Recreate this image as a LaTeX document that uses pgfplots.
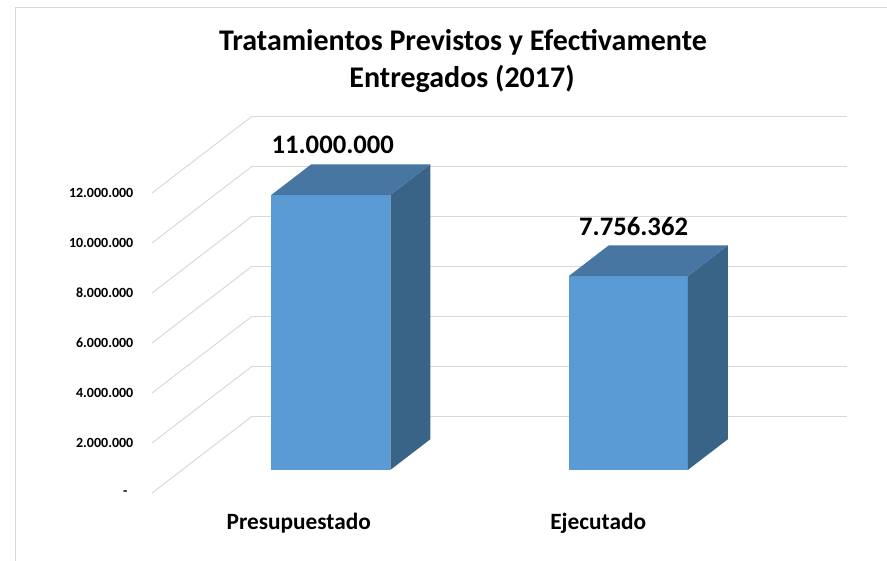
\documentclass[border=0pt]{standalone}
\usepackage{fontspec}
\setmainfont{Carlito}
\usepackage{pgfplots}
\pgfplotsset{compat=1.18}
\definecolor{frontc}{HTML}{5B9BD5}
\definecolor{topc}{HTML}{4676A1}
\definecolor{sidec}{HTML}{3A6388}
\definecolor{gridc}{HTML}{D9D9D9}
\begin{document}
\begin{tikzpicture}
\useasboundingbox (0,0) rectangle (665.25pt,420pt);
\draw[gridc, line width=1.1pt] (11.625pt,-2pt) -- (11.625pt,414.375pt) -- (667pt,414.375pt);
\node[anchor=base, font=\bfseries\fontsize{22.5}{24}\selectfont] at (347.25pt,382pt) {Tratamientos Previstos y Efectivamente};
\node[anchor=base, font=\bfseries\fontsize{22.5}{24}\selectfont] at (346.5pt,354.5pt) {Entregados (2017)};
\begin{axis}[
  x={(223.125pt,0pt)}, y={(75pt,57.525pt)}, z={(0pt,18.75pt)},
  anchor=origin, at={(114pt,50.25pt)},
  xmin=0, xmax=2, ymin=0, ymax=1, zmin=0, zmax=12,
  z filter/.expression={z/1000000},
  xtick=\empty, ytick=\empty, ztick={0,2,...,12}, zticklabels={},
  zmajorgrids, major grid style={gridc, line width=0.75pt},
  axis line style={draw=none}, major tick style={draw=none},
  clip=false, no marks,
]
% Presupuestado = 11000000
\addplot3[fill=frontc, draw=none] coordinates {(0.3,0.3,0) (0.7,0.3,0) (0.7,0.3,11000000) (0.3,0.3,11000000)};
\addplot3[fill=sidec, draw=none] coordinates {(0.7,0.3,0) (0.7,0.7,0) (0.7,0.7,11000000) (0.7,0.3,11000000)};
\addplot3[fill=topc, draw=none] coordinates {(0.3,0.3,11000000) (0.7,0.3,11000000) (0.7,0.7,11000000) (0.3,0.7,11000000)};
% Ejecutado = 7756362
\addplot3[fill=frontc, draw=none] coordinates {(1.3,0.3,0) (1.7,0.3,0) (1.7,0.3,7756362) (1.3,0.3,7756362)};
\addplot3[fill=sidec, draw=none] coordinates {(1.7,0.3,0) (1.7,0.7,0) (1.7,0.7,7756362) (1.7,0.3,7756362)};
\addplot3[fill=topc, draw=none] coordinates {(1.3,0.3,7756362) (1.7,0.3,7756362) (1.7,0.7,7756362) (1.3,0.7,7756362)};

\node[font=\bfseries\fontsize{20}{22}\selectfont] at (axis cs:0.5,0.3,11) [xshift=1.5pt, yshift=37.5pt] {11.000.000};
\node[font=\bfseries\fontsize{20}{22}\selectfont] at (axis cs:1.5,0.3,7.756362) [xshift=4pt, yshift=37.5pt] {7.756.362};

\node[anchor=east, font=\bfseries\fontsize{10.5}{12}\selectfont] at (axis cs:0,0,12) [xshift=-10.5pt] {12.000.000};
\node[anchor=east, font=\bfseries\fontsize{10.5}{12}\selectfont] at (axis cs:0,0,10) [xshift=-10.5pt] {10.000.000};
\node[anchor=east, font=\bfseries\fontsize{10.5}{12}\selectfont] at (axis cs:0,0,8) [xshift=-10.5pt] {8.000.000};
\node[anchor=east, font=\bfseries\fontsize{10.5}{12}\selectfont] at (axis cs:0,0,6) [xshift=-10.5pt] {6.000.000};
\node[anchor=east, font=\bfseries\fontsize{10.5}{12}\selectfont] at (axis cs:0,0,4) [xshift=-10.5pt] {4.000.000};
\node[anchor=east, font=\bfseries\fontsize{10.5}{12}\selectfont] at (axis cs:0,0,2) [xshift=-10.5pt] {2.000.000};
\node[anchor=east, font=\bfseries\fontsize{10.5}{12}\selectfont] at (axis cs:0,0,0) [xshift=-14.9pt] {-};

\node[anchor=base, font=\bfseries\fontsize{17.5}{20}\selectfont] at (axis cs:0.5,0,0) [xshift=-1.5pt, yshift=-27pt] {Presupuestado};
\node[anchor=base, font=\bfseries\fontsize{17.5}{20}\selectfont] at (axis cs:1.5,0,0) [yshift=-27pt] {Ejecutado};
\end{axis}
\end{tikzpicture}
\end{document}
